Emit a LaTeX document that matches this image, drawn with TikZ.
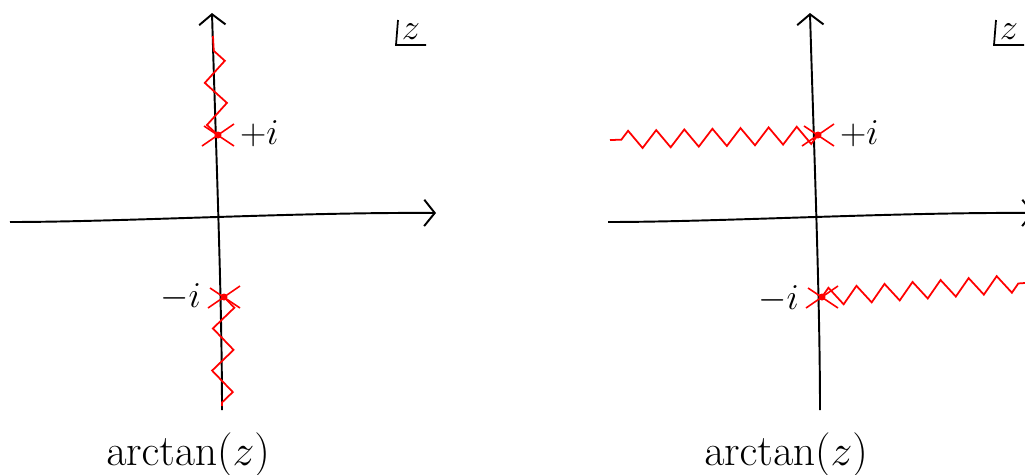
\documentclass[tikz,border=0pt]{standalone}
\usetikzlibrary{arrows.meta,decorations.pathmorphing}
\tikzset{
	axis/.style={line width=1.1pt, -{Straight Barb[length=6pt,width=15pt]}},
	cut/.style={red, line width=1pt, decorate,
		decoration={zigzag, segment length=16, amplitude=5}},
	pole/.style={red, line width=0.9pt},
	lbl/.style={font=\huge},
}
\begin{document}
\begin{tikzpicture}[x=0.02cm, y=-0.02cm]
		\useasboundingbox (0, 0) rectangle (1025, 474);
		% axes of both planes
		\foreach \o/\n in {0/L, 598/R}{
			\coordinate (\n w) at (\o + 10, 222);
			\coordinate (\n e) at (\o + 436, 213);
			\coordinate (\n s) at (\o + 222, 410);
			\coordinate (\n n) at (\o + 212, 13);
			\draw[axis] (\n w) .. controls (\o + 120, 222) and (\o + 300, 212) .. (\n e);
			\draw[axis] (\n s) .. controls (\o + 222, 300) and (\o + 216, 150) .. (\n n);
			\node[lbl] (\n z) at (\o + 411, 32) {$z$};
			\draw[line width=1pt] (\o + 398, 20) -- (\o + 396, 45) -- (\o + 426, 45);
			\node[font=\Huge] (\n f) at (\o + 188, 455) {$\arctan(z)$};
		}
		% poles
		\foreach \n/\x/\y in {Lp/218/135, Lm/224/297, Rp/818/135, Rm/822/297}{
			\coordinate (\n) at (\x, \y);
			\draw[pole] (\x - 16, \y + 11) -- (\x + 16, \y - 11);
			\draw[pole] (\x - 14, \y - 9) -- (\x + 16, \y + 11);
			\fill[red] (\n) circle (3.5);
		}
		\node[lbl, right] (Lpt) at (234, 134) {$+i$};
		\node[lbl, left] (Lmt) at (207, 297) {$-i$};
		\node[lbl, right] (Rpt) at (834, 134) {$+i$};
		\node[lbl, left] (Rmt) at (805, 299) {$-i$};
		% branch cuts
		\coordinate (Ltop) at (213, 36);
		\coordinate (Lbot) at (222, 406);
		\coordinate (Rleft) at (610, 140);
		\coordinate (Rright) at (1025, 283);
		\draw[cut, decoration={segment length=24, amplitude=6}] (Lp) -- (Ltop);
		\draw[cut, decoration={segment length=24, amplitude=6}] (Lm) -- (Lbot);
		\draw[cut] (Rp) -- (Rleft);
		\draw[cut] (Rm) -- (Rright);
	\end{tikzpicture}
\end{document}
